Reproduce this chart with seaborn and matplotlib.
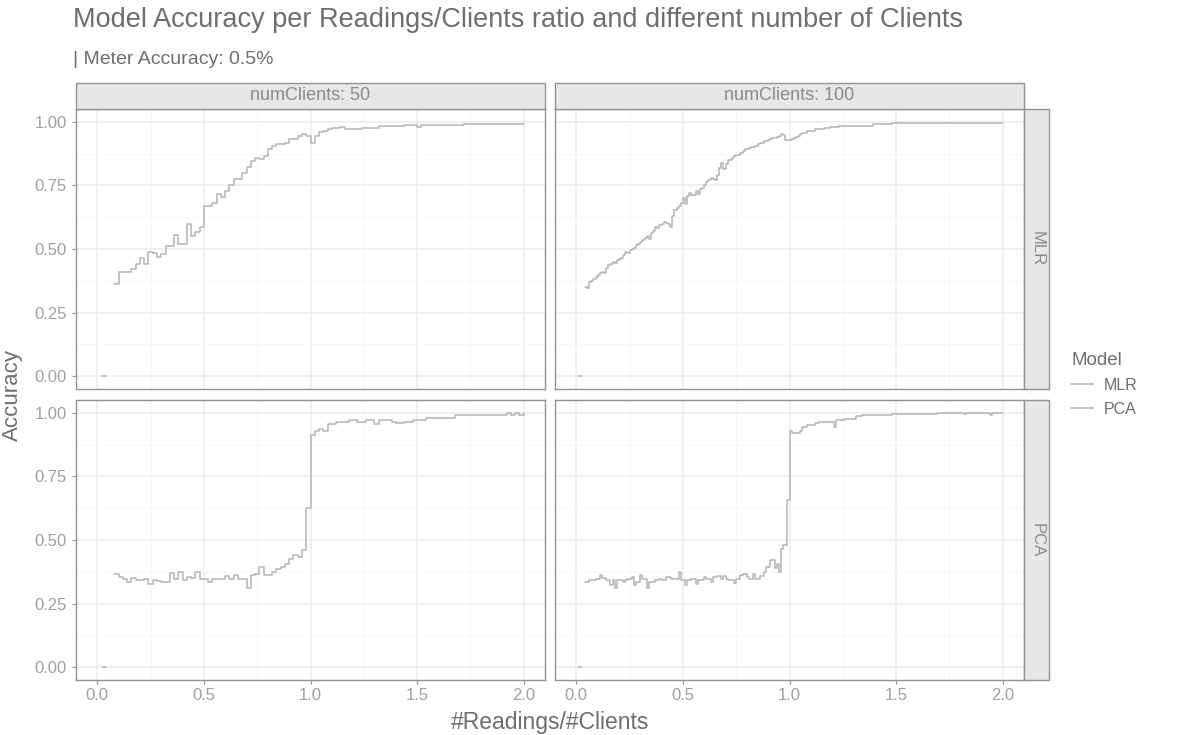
import numpy as np
import pandas as pd
import matplotlib
matplotlib.use("Agg")
import matplotlib.pyplot as plt
from matplotlib.lines import Line2D
from matplotlib.patches import Rectangle
import seaborn as sns

# ---- data: accuracy per #Readings/#Clients ratio (step k -> ratio k / numClients) ----
clients = [50, 100]
models = ["MLR", "PCA"]
nan = np.nan

mlr_50 = ([0.0, 0.0, nan,
           0.363, 0.411, 0.411, 0.411, 0.42, 0.44, 0.466, 0.44, 0.49, 0.483,
           0.47, 0.48, 0.512, 0.512, 0.555, 0.518, 0.518, 0.597, 0.553, 0.568,
           0.586, 0.667, 0.667, 0.68, 0.717, 0.704, 0.726, 0.753, 0.775, 0.775,
           0.80, 0.822, 0.845, 0.858, 0.854, 0.867, 0.893, 0.904, 0.913, 0.913,
           0.917, 0.933, 0.933, 0.943, 0.95, 0.943, 0.917, 0.943, 0.96, 0.963,
           0.97, 0.974, 0.976, 0.979, 0.972, 0.972, 0.972, 0.972, 0.977, 0.977,
           0.977, 0.977]
          + [0.985] * 6 + [0.987] * 3 + [0.981] + [0.988] * 10 + [0.993] * 15)

mlr_100 = ([0.0, 0.0, nan,
            0.351, 0.345, 0.371, 0.375, 0.384, 0.39, 0.397, 0.405, 0.41, 0.404,
            0.424, 0.437, 0.44, 0.45, 0.445, 0.457, 0.46, 0.463, 0.476, 0.49,
            0.483, 0.496, 0.5, 0.505, 0.516, 0.52, 0.529, 0.535, 0.542, 0.55,
            0.541, 0.562, 0.57, 0.588, 0.582, 0.595, 0.6, 0.608, 0.603, 0.6,
            0.588, 0.628, 0.654, 0.66, 0.667, 0.68, 0.7, 0.675, 0.707, 0.72,
            0.714, 0.712, 0.726, 0.715, 0.735, 0.74, 0.753, 0.762, 0.772, 0.779,
            0.776, 0.772, 0.792, 0.818, 0.838, 0.815, 0.832, 0.851, 0.85, 0.857,
            0.864, 0.868, 0.871, 0.878, 0.885, 0.891, 0.894, 0.897, 0.901, 0.901,
            0.905, 0.913, 0.915, 0.917, 0.924, 0.926, 0.928, 0.933, 0.935, 0.937,
            0.94, 0.943, 0.95, 0.947, 0.93, 0.928, 0.93, 0.934, 0.937, 0.94,
            0.943, 0.95, 0.955, 0.957, 0.962, 0.963, 0.963, 0.965, 0.97, 0.97,
            0.972, 0.972, 0.975, 0.975, 0.977, 0.978]
           + [0.98] * 3 + [0.985] * 14 + [0.983] * 2 + [0.99] * 9 + [0.996] * 53)

pca_50 = ([0.0, 0.0, nan,
           0.368, 0.355, 0.346, 0.335, 0.35, 0.344, 0.344, 0.348, 0.328, 0.342,
           0.338, 0.335, 0.335, 0.37, 0.348, 0.374, 0.342, 0.355, 0.35, 0.374,
           0.348, 0.346, 0.335, 0.348, 0.348, 0.346, 0.357, 0.346, 0.361, 0.346,
           0.346, 0.311, 0.364, 0.368, 0.393, 0.364, 0.364, 0.374, 0.387, 0.394,
           0.407, 0.427, 0.442, 0.433, 0.462, 0.626, 0.912, 0.929, 0.938, 0.929,
           0.954, 0.954, 0.965, 0.965, 0.965, 0.971, 0.971, 0.965, 0.965, 0.971,
           0.971, 0.954, 0.971, 0.971, 0.971, 0.965, 0.96, 0.96, 0.962, 0.965,
           0.971, 0.971, 0.971]
          + [0.978] * 7 + [0.991] * 12 + [0.997, 0.991, 0.997, 0.991, 0.997])

pca_100 = ([0.0, 0.0, nan,
            0.335, 0.335, 0.342, 0.342, 0.342, 0.348, 0.348, 0.361, 0.35, 0.35,
            0.342, 0.342, 0.322, 0.342, 0.31, 0.342, 0.342, 0.342, 0.336, 0.342,
            0.348, 0.348, 0.355, 0.322, 0.335, 0.335, 0.361, 0.348, 0.348, 0.311,
            0.335, 0.335, 0.335, 0.342, 0.342, 0.348, 0.342, 0.342, 0.355, 0.355,
            0.35, 0.348, 0.348, 0.348, 0.374, 0.342, 0.342, 0.322, 0.342, 0.342,
            0.348, 0.348, 0.328, 0.342, 0.342, 0.342, 0.355, 0.348, 0.348, 0.335,
            0.355, 0.355, 0.359, 0.359, 0.348, 0.359, 0.348, 0.342, 0.342, 0.342,
            0.332, 0.348, 0.348, 0.361, 0.368, 0.368, 0.355, 0.348, 0.348, 0.368,
            0.348, 0.348, 0.359, 0.359, 0.374, 0.394, 0.394, 0.42, 0.42, 0.39,
            0.407, 0.374, 0.466, 0.479, 0.479, 0.656]
           + [0.93] + [0.92] * 4 + [0.93] + [0.944] * 2 + [0.95] * 4 + [0.96] * 2
           + [0.963] * 7 + [0.944] + [0.97] * 4 + [0.976] * 5 + [0.986] * 3
           + [0.99] * 14 + [0.996] * 21 + [1.0] * 13 + [0.994] + [1.0] * 11
           + [0.993] + [1.0] * 6)

series = {("MLR", 50): mlr_50, ("MLR", 100): mlr_100,
          ("PCA", 50): pca_50, ("PCA", 100): pca_100}

rows = []
for (model, n), acc in series.items():
    acc = np.asarray(acc, dtype=float)
    ratio = np.arange(1, len(acc) + 1) / n
    seg = np.cumsum(np.isnan(acc))
    for r, a, s in zip(ratio, acc, seg):
        if not np.isnan(a):
            rows.append((r, a, model, n, f"{model}-{n}-{s}"))
df = pd.DataFrame(rows, columns=["ratio", "Accuracy", "Model", "numClients", "segment"])

# ---- styling ----
sns.set_theme(style="white")
plt.rcParams["font.family"] = ["Liberation Sans", "DejaVu Sans"]

LINE = "#b4b4b4"
TEXT_DARK = "#6e6e6e"
TEXT_TICK = "#a0a0a0"
STRIP_TEXT = "#8a8a8a"
BORDER = "#939393"
STRIP_BG = "#e7e7e7"
GRID_MAJ = "#ececec"
GRID_MIN = "#f6f6f6"

W, H = 1181, 735
fig = plt.figure(figsize=(W / 100, H / 100), dpi=100)


def frac(l, t, r, b):
    return [l / W, 1 - b / H, (r - l) / W, (b - t) / H]


col_x = [(76, 545), (555, 1024)]
row_y = [(109, 389), (400, 680)]
strip_top = 83
strip_right = 1049

for i, model in enumerate(models):
    for j, n in enumerate(clients):
        l, r = col_x[j]
        t, b = row_y[i]
        ax = fig.add_axes(frac(l, t, r, b))
        sub = df[(df.Model == model) & (df.numClients == n)]
        sns.lineplot(data=sub, x="ratio", y="Accuracy", hue="Model",
                     units="segment", estimator=None, drawstyle="steps-post",
                     palette={"MLR": LINE, "PCA": LINE}, linewidth=1.1,
                     legend=False, ax=ax)
        ax.set_xlim(-0.1, 2.1)
        ax.set_ylim(-0.05, 1.05)
        ax.set_xticks([0.0, 0.5, 1.0, 1.5, 2.0])
        ax.set_xticks([0.25, 0.75, 1.25, 1.75], minor=True)
        ax.set_yticks([0.0, 0.25, 0.5, 0.75, 1.0])
        ax.set_yticks([0.125, 0.375, 0.625, 0.875], minor=True)
        ax.grid(True, which="major", color=GRID_MAJ, linewidth=1.1)
        ax.grid(True, which="minor", color=GRID_MIN, linewidth=0.6)
        ax.set_axisbelow(True)
        for sp in ax.spines.values():
            sp.set_visible(True)
            sp.set_color(BORDER)
            sp.set_linewidth(1.0)
        ax.tick_params(which="major", length=3.2, width=0.8, color=BORDER,
                       labelsize=12, labelcolor=TEXT_TICK,
                       bottom=(i == 1), left=(j == 0))
        ax.tick_params(axis="x", pad=2.5)
        ax.tick_params(axis="y", pad=3.5)
        ax.tick_params(which="minor", length=0)
        if j == 0:
            ax.set_yticklabels(["0.00", "0.25", "0.50", "0.75", "1.00"])
        else:
            ax.set_yticklabels([])
        if i == 1:
            ax.set_xticklabels(["0.0", "0.5", "1.0", "1.5", "2.0"])
        else:
            ax.set_xticklabels([])
        ax.set_xlabel("")
        ax.set_ylabel("")

# facet strips
for j, n in enumerate(clients):
    l, r = col_x[j]
    fig.add_artist(Rectangle((l / W, 1 - 109 / H), (r - l) / W, (109 - strip_top) / H,
                             transform=fig.transFigure, facecolor=STRIP_BG,
                             edgecolor=BORDER, linewidth=1.0))
    fig.text((l + r) / 2 / W, 1 - (strip_top + 109) / 2 / H, f"numClients: {n}",
             ha="center", va="center", fontsize=13, color=STRIP_TEXT)
for i, model in enumerate(models):
    t, b = row_y[i]
    fig.add_artist(Rectangle((1024 / W, 1 - b / H), (strip_right - 1024) / W, (b - t) / H,
                             transform=fig.transFigure, facecolor=STRIP_BG,
                             edgecolor=BORDER, linewidth=1.0))
    fig.text((1024 + strip_right) / 2 / W + 1 / W, 1 - (t + b) / 2 / H, model,
             ha="center", va="center", rotation=-90, fontsize=12, color=STRIP_TEXT)

# titles and axis labels
fig.text(73 / W, 1 - 27 / H,
         "Model Accuracy per Readings/Clients ratio and different number of Clients",
         ha="left", va="baseline", fontsize=19.5, color=TEXT_DARK)
fig.text(73 / W, 1 - 64 / H, "| Meter Accuracy: 0.5%", ha="left", va="baseline",
         fontsize=14, color=TEXT_DARK)
fig.text(550 / W, 1 - 722 / H, "#Readings/#Clients", ha="center", va="center",
         fontsize=16.5, color=TEXT_DARK)
fig.text(12 / W, 1 - 395 / H, "Accuracy", ha="center", va="center", rotation=90,
         fontsize=16, color=TEXT_DARK)

# legend
handles = [Line2D([], [], color=LINE, linewidth=1.1) for _ in models]
leg = fig.legend(handles, models, title="Model", loc="upper left",
                 bbox_to_anchor=(1060 / W, 1 - 341 / H), frameon=False,
                 borderpad=0.2, handlelength=1.45, handletextpad=0.6,
                 labelspacing=0.55, fontsize=11.5, title_fontsize=13.5,
                 alignment="left")
for txt in leg.get_texts():
    txt.set_color(TEXT_DARK)
leg.get_title().set_color(TEXT_DARK)

fig.savefig("out.png", dpi=100, facecolor="white")
